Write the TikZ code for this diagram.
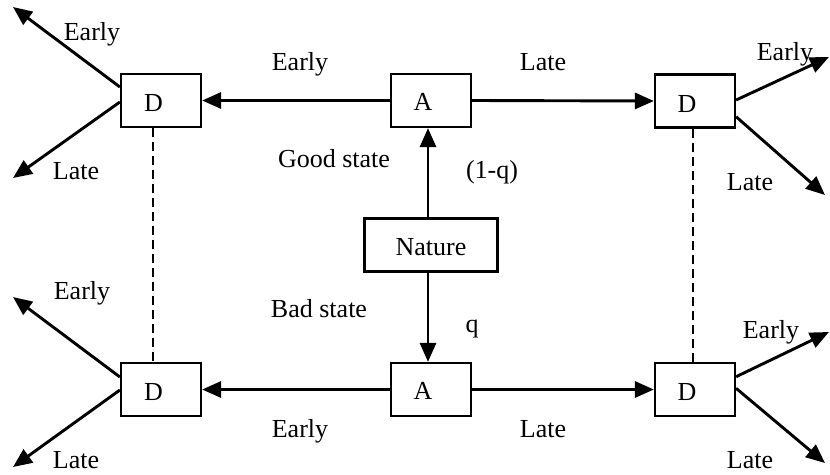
\documentclass[tikz,border=0pt]{standalone}
\usepackage{fontspec}
\setmainfont{Liberation Serif}
\usetikzlibrary{arrows.meta,calc}
\begin{document}
\begin{tikzpicture}[x=1pt,y=-1pt,
  every node/.style={font=\fontsize{26}{30}\selectfont},
  box/.style={draw,line width=2.2pt,minimum width=80pt,minimum height=53pt,inner sep=0pt,text depth=0pt},
  dbox/.style={box,text height=22pt},
  abox/.style={box,text height=20pt},
  arr/.style={line width=2.9pt,-{Triangle[length=19pt,width=16pt]}},
  dashlink/.style={line width=1.6pt,dash pattern=on 9pt off 5pt},
  lbl/.style={anchor=base,inner sep=0pt}]
\useasboundingbox (0,0) rectangle (830,474);
% boxes
\node[dbox] (dtl) at (161,100.5) {D\hspace*{15pt}};
\node[abox] (atop) at (431,100.5) {A\hspace*{16pt}};
\node[dbox] (dtr) at (695,101) {D\hspace*{16pt}};
\node[abox,minimum width=133pt] (nat) at (431,245) {Nature};
\node[dbox] (dbl) at (161,389.5) {D\hspace*{15pt}};
\node[abox] (abot) at (431,389.5) {A\hspace*{16pt}};
\node[dbox] (dbr) at (695,389.5) {D\hspace*{16pt}};
% free ends
\coordinate (tlE) at (13,7);
\coordinate (tlL) at (13,178);
\coordinate (trE) at (829,57);
\coordinate (trL) at (825,195);
\coordinate (blE) at (13,297);
\coordinate (blL) at (13,467);
\coordinate (brE) at (829,332);
\coordinate (brL) at (825,463);
% main arrows
\draw[arr] (atop.west) -- (dtl.east);
\draw[arr] (atop.east) -- (dtr.west);
\draw[arr] (abot.west) -- (dbl.east);
\draw[arr] (abot.east) -- (dbr.west);
\draw[arr] ([xshift=-3pt]nat.north) -- ([xshift=-3pt]atop.south);
\draw[arr] ([xshift=-3pt]nat.south) -- ([xshift=-3pt]abot.north);
% branch arrows
\draw[arr] ($(dtl.west)+(0,-13.5)$) -- (tlE);
\draw[arr] ($(dtl.west)+(0,1.5)$) -- (tlL);
\draw[arr] ($(dtr.east)+(0,-1)$) -- (trE);
\draw[arr] ($(dtr.east)+(0,15.7)$) -- (trL);
\draw[arr] ($(dbl.west)+(0,-12.5)$) -- (blE);
\draw[arr] ($(dbl.west)+(0,0.5)$) -- (blL);
\draw[arr] ($(dbr.east)+(0,-12.8)$) -- (brE);
\draw[arr] ($(dbr.east)+(0,-1.2)$) -- (brL);
% dashed links
\draw[dashlink] ([xshift=-8pt]dtl.south) -- ([xshift=-8pt]dbl.north);
\draw[dashlink] ([xshift=-2pt]dtr.south) -- ([xshift=-2pt]dbr.north);
% labels
\node[lbl] (l1) at (92,40) {Early};
\node[lbl] (l2) at (76,179) {Late};
\node[lbl] (l3) at (300,70) {Early};
\node[lbl] (l4) at (543,70) {Late};
\node[lbl] (l5) at (785,60) {Early};
\node[lbl] (l6) at (750,190) {Late};
\node[lbl] (l7) at (334,167) {Good state};
\node[lbl] (l8) at (492,178) {(1-q)};
\node[lbl] (l9) at (319,317) {Bad state};
\node[lbl] (l10) at (472,332) {q};
\node[lbl] (l11) at (300,437) {Early};
\node[lbl] (l12) at (543,437) {Late};
\node[lbl] (l13) at (82,299) {Early};
\node[lbl] (l14) at (76,468) {Late};
\node[lbl] (l15) at (771,338) {Early};
\node[lbl] (l16) at (750,468) {Late};
\end{tikzpicture}
\end{document}
